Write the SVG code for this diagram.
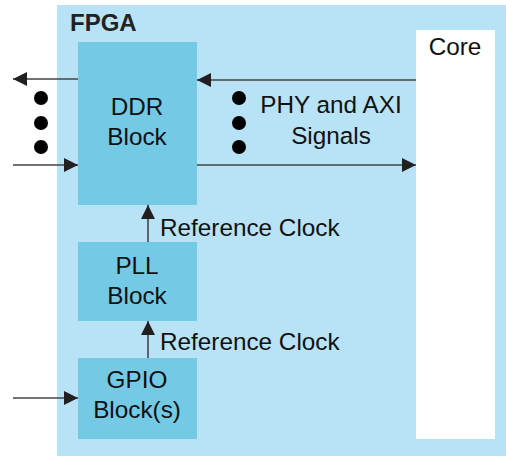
<svg xmlns="http://www.w3.org/2000/svg" width="506" height="456" viewBox="0 0 506 456">
<defs>
<style>
.outer{fill:#b8e3f7}
.blk{fill:#74cae5}
.core{fill:#ffffff}
.t{font-family:"Liberation Sans",Arial,sans-serif;font-size:24.3px;fill:#111}
.tb{font-family:"Liberation Sans",Arial,sans-serif;font-size:24px;font-weight:bold;fill:#222}
.ln{stroke:#444;stroke-width:1.6;fill:none}
.dot{fill:#000}
</style>
<marker id="ah" viewBox="0 0 14 14" refX="14" refY="7" markerWidth="14" markerHeight="14" markerUnits="userSpaceOnUse" orient="auto">
<path d="M0,0 L14,7 L0,14 Z" fill="#231f20"/>
</marker>
</defs>
<rect class="outer" x="57" y="5" width="449" height="451"/>
<text class="tb" x="70" y="31">FPGA</text>
<g id="core">
<rect class="core" x="416" y="30" width="79" height="409"/>
<text class="t" x="455" y="55" text-anchor="middle">Core</text>
</g>
<g id="ddr">
<rect class="blk" x="78" y="42" width="119" height="163"/>
<text class="t" x="137" y="115" text-anchor="middle">DDR</text>
<text class="t" x="137" y="145" text-anchor="middle">Block</text>
</g>
<g id="pll">
<rect class="blk" x="78" y="242" width="119" height="79"/>
<text class="t" x="137" y="274" text-anchor="middle">PLL</text>
<text class="t" x="137" y="304" text-anchor="middle">Block</text>
</g>
<g id="gpio">
<rect class="blk" x="78" y="358" width="119" height="81"/>
<text class="t" x="137" y="388" text-anchor="middle">GPIO</text>
<text class="t" x="137" y="418" text-anchor="middle">Block(s)</text>
</g>
<g id="connectors">
<line class="ln" x1="78" y1="79" x2="13" y2="79" marker-end="url(#ah)"/>
<line class="ln" x1="13" y1="165" x2="78" y2="165" marker-end="url(#ah)"/>
<line class="ln" x1="416" y1="80" x2="197" y2="80" marker-end="url(#ah)"/>
<line class="ln" x1="197" y1="165" x2="416" y2="165" marker-end="url(#ah)"/>
<line class="ln" x1="148" y1="242" x2="148" y2="205" marker-end="url(#ah)"/>
<line class="ln" x1="148" y1="358" x2="148" y2="321" marker-end="url(#ah)"/>
<line class="ln" x1="13" y1="398" x2="78" y2="398" marker-end="url(#ah)"/>
<circle class="dot" cx="41" cy="98" r="7"/>
<circle class="dot" cx="41" cy="123" r="7"/>
<circle class="dot" cx="41" cy="147" r="7"/>
<circle class="dot" cx="239" cy="98" r="7"/>
<circle class="dot" cx="239" cy="123" r="7"/>
<circle class="dot" cx="239" cy="147" r="7"/>
<text class="t" x="331" y="113" text-anchor="middle">PHY and AXI</text>
<text class="t" x="331" y="144" text-anchor="middle">Signals</text>
<text class="t" x="160" y="236">Reference Clock</text>
<text class="t" x="160" y="350">Reference Clock</text>
</g>
</svg>
